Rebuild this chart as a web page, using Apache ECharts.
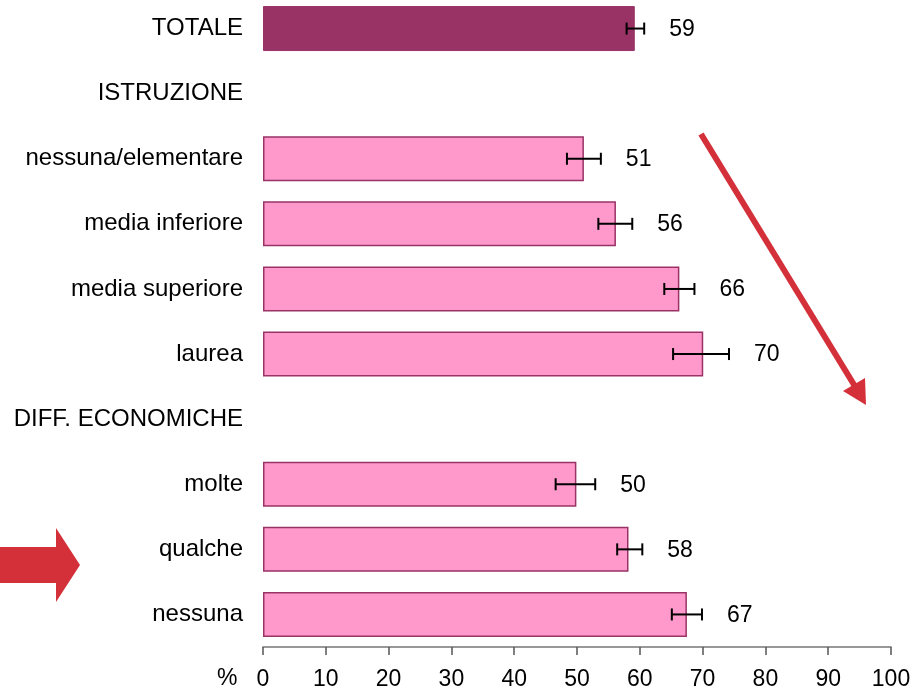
<!DOCTYPE html>
<html>
<head>
<meta charset="utf-8">
<script src="https://cdn.jsdelivr.net/npm/echarts@6/dist/echarts.min.js"></script>
<style>html,body{margin:0;padding:0;background:#fff;overflow:hidden;}#c{position:absolute;left:0;top:-4px;width:917px;height:695px;}</style>
</head>
<body>
<div id="c"></div>
<script>
var categories = ['TOTALE','ISTRUZIONE','nessuna/elementare','media inferiore','media superiore','laurea','DIFF. ECONOMICHE','molte','qualche','nessuna'];
var values     = [59.2, null, 51.1, 56.2, 66.3, 70.1, null, 49.9, 58.2, 67.5];
var errLow     = [57.9, null, 48.4, 53.4, 63.9, 65.3, null, 46.6, 56.4, 65.1];
var errHigh    = [60.7, null, 53.8, 58.8, 68.7, 74.2, null, 52.9, 60.4, 69.9];
var labels     = ['59', '', '51', '56', '66', '70', '', '50', '58', '67'];
var xTicks     = [0, 10, 20, 30, 40, 50, 60, 70, 80, 90, 100];

var FONT = '"Liberation Sans", Arial, sans-serif';
var RED = '#D3303A';
var DY = 4; // container is shifted up by 4px

var barData = values.map(function (v, i) {
  if (v === null) return '-';
  return {
    value: v,
    itemStyle: i === 0
      ? { color: '#993366', borderColor: '#993366', borderWidth: 1 }
      : { color: '#FF99CC', borderColor: '#993366', borderWidth: 1.5 }
  };
});
var errData = [];
values.forEach(function (v, i) {
  if (v !== null) errData.push([i, errLow[i], errHigh[i], labels[i]]);
});

var chart = echarts.init(document.getElementById('c'), null, { renderer: 'canvas' });
chart.setOption({
  animation: false,
  backgroundColor: '#fff',
  grid: { left: 263, right: 26, top: 0, bottom: 44, containLabel: false },
  xAxis: {
    type: 'value', min: xTicks[0], max: xTicks[xTicks.length - 1], interval: 10,
    axisLine: { show: true, lineStyle: { color: '#777', width: 1.5 } },
    axisTick: { show: true, length: 8, lineStyle: { color: '#555', width: 1.5 } },
    splitLine: { show: false },
    axisLabel: { color: '#000', fontFamily: FONT, fontSize: 23, margin: 21 }
  },
  yAxis: {
    type: 'category', data: categories, inverse: true,
    axisLine: { show: false }, axisTick: { show: false },
    axisLabel: { color: '#000', fontFamily: FONT, fontSize: 24, margin: 20 }
  },
  series: [
    { type: 'bar', data: barData, barWidth: 45, z: 2 },
    {
      type: 'custom', z: 5, data: errData,
      renderItem: function (params, api) {
        var idx = api.value(0);
        var p1 = api.coord([api.value(1), idx]);
        var p2 = api.coord([api.value(2), idx]);
        var h = 6;
        var st = { stroke: '#000', lineWidth: 2 };
        return {
          type: 'group',
          children: [
            { type: 'line', shape: { x1: p1[0], y1: p1[1], x2: p2[0], y2: p2[1] }, style: st },
            { type: 'line', shape: { x1: p1[0], y1: p1[1] - h, x2: p1[0], y2: p1[1] + h }, style: st },
            { type: 'line', shape: { x1: p2[0], y1: p2[1] - h, x2: p2[0], y2: p2[1] + h }, style: st },
            { type: 'text', style: { x: p2[0] + 25, y: p2[1] + 1, text: api.value(3), fill: '#000',
              font: '23px ' + FONT, textAlign: 'left', textVerticalAlign: 'middle' } }
          ]
        };
      }
    }
  ],
  graphic: [
    { type: 'text', left: 217, top: 667 + DY, style: { text: '%', fill: '#000', font: '23px ' + FONT } },
    { type: 'line', shape: { x1: 701, y1: 134 + DY, x2: 856, y2: 388 + DY }, style: { stroke: RED, lineWidth: 6 } },
    { type: 'polygon', shape: { points: [[843, 391 + DY], [866, 405 + DY], [865, 378 + DY]] }, style: { fill: RED } },
    { type: 'polygon', shape: { points: [[0, 547 + DY], [56, 547 + DY], [56, 528 + DY], [80, 565 + DY], [56, 602 + DY], [56, 583 + DY], [0, 583 + DY]] }, style: { fill: RED } }
  ]
});
</script>
</body>
</html>
